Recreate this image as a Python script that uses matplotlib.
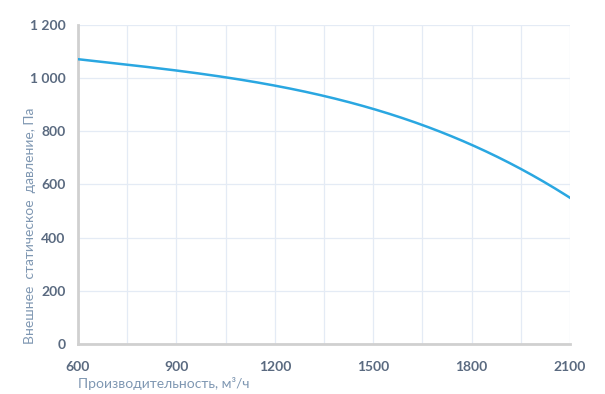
import numpy as np
import matplotlib
matplotlib.use("Agg")
import matplotlib.pyplot as plt
from matplotlib.ticker import MultipleLocator, FuncFormatter

# airflow, m3/h  vs  external static pressure, Pa
flow = [600, 750, 900, 1050, 1200, 1350, 1500, 1650, 1800, 1950, 2050, 2100]
pressure = [1070, 1050, 1030, 1004, 970, 932, 880, 826, 750, 660, 586, 550]

x_ticks = [600, 900, 1200, 1500, 1800, 2100]

plt.rcParams["font.family"] = ["Lato", "DejaVu Sans"]

fig = plt.figure(figsize=(6.05, 3.94), dpi=100)
ax = fig.add_axes([0.129, 0.127, 0.813, 0.81])

# smooth through the read points
xs = np.linspace(flow[0], flow[-1], 300)
coef = np.polyfit(flow, pressure, 3)
ax.plot(xs, np.polyval(coef, xs), color="#2aa7e1", lw=1.8, zorder=3)

ax.set_xlim(600, 2100)
ax.set_ylim(0, 1200)
ax.xaxis.set_major_locator(plt.FixedLocator(x_ticks))
ax.xaxis.set_minor_locator(MultipleLocator(150))
ax.yaxis.set_major_locator(MultipleLocator(200))
ax.yaxis.set_major_formatter(FuncFormatter(lambda v, p: f"{int(v):,}".replace(",", " ")))

ax.grid(which="both", color="#e4ebf5", lw=0.9)
ax.set_axisbelow(True)
for s in ["top", "right"]:
    ax.spines[s].set_visible(False)
for s in ["left", "bottom"]:
    ax.spines[s].set_color("#d0d0d0")
    ax.spines[s].set_linewidth(2)
ax.tick_params(which="both", length=0, colors="#5a6a80", labelsize=10)
for t in ax.get_xticklabels() + ax.get_yticklabels():
    t.set_fontweight("bold")
ax.tick_params(axis="x", pad=12)
ax.tick_params(axis="y", pad=9)

ax.set_xlabel("Производительность, м³/ч", color="#7f97b2", fontsize=10, loc="left")
ax.xaxis.set_label_coords(0.0, -0.105, transform=ax.transAxes)
ax.xaxis.label.set_va("top")
ax.set_ylabel("Внешнее  статическое  давление, Па", color="#7f97b2", fontsize=10, loc="bottom")
ax.yaxis.set_label_coords(-0.086, 0.0, transform=ax.transAxes)

fig.savefig("out.png", dpi=100)
